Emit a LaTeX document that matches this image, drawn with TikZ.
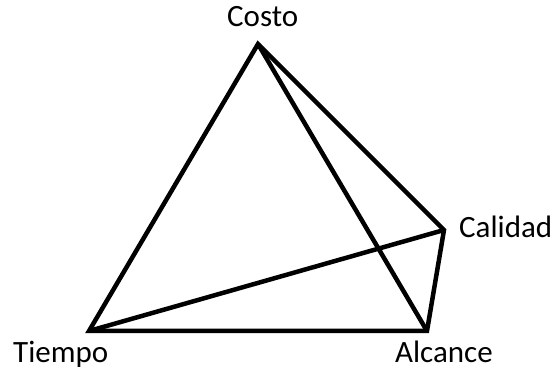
\documentclass[tikz,border=0pt]{standalone}
\usepackage{fontspec}
\setmainfont{Carlito}
\begin{document}
\begin{tikzpicture}[x=1pt,y=-1pt,
  lbl/.style={anchor=base west,inner sep=0pt,font=\fontsize{31}{37}\selectfont},
  edge/.style={line width=4.5pt,line join=miter}]
\useasboundingbox (0,0) rectangle (558,371);
\coordinate (co) at (258,44);
\coordinate (ca) at (444,230);
\coordinate (ti) at (89,331);
\coordinate (al) at (427,331);
\node[lbl] (lco) at (227,27) {Costo};
\node[lbl] (lca) at (459,238) {Calidad};
\node[lbl] (lti) at (13,363) {Tiempo};
\node[lbl] (lal) at (395,363) {Alcance};
\draw[edge] (co) -- (ti) -- (al) -- (ca) -- cycle;
\draw[edge] (co) -- (al);
\draw[edge] (ti) -- (ca);
\end{tikzpicture}
\end{document}
